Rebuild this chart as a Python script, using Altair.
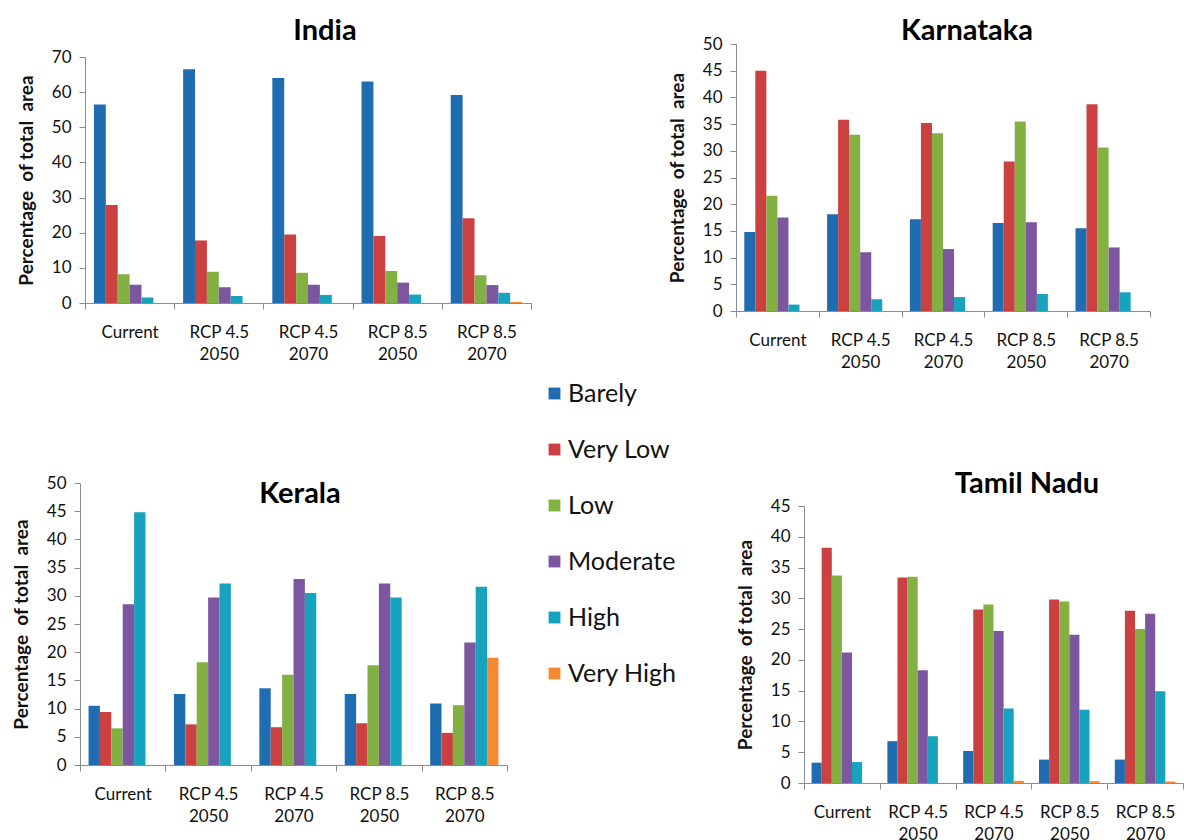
import altair as alt
import pandas as pd

# ---------------- data ----------------
scenarios = ["Current", "RCP 4.5|2050", "RCP 4.5|2070", "RCP 8.5|2050", "RCP 8.5|2070"]
classes = ["Barely", "Very Low", "Low", "Moderate", "High", "Very High"]
colors = ["#1F6DB0", "#CB4040", "#82B042", "#7D56A0", "#17A2BD", "#F58A33"]

india = {
    "Barely":    [56.5, 66.5, 64.0, 63.0, 59.2],
    "Very Low":  [27.9, 17.8, 19.5, 19.1, 24.1],
    "Low":       [8.2, 8.9, 8.6, 9.1, 7.9],
    "Moderate":  [5.2, 4.5, 5.2, 5.8, 5.1],
    "High":      [1.6, 2.0, 2.3, 2.4, 2.9],
    "Very High": [0.0, 0.0, 0.0, 0.0, 0.3],
}
karnataka = {
    "Barely":    [14.8, 18.1, 17.2, 16.5, 15.5],
    "Very Low":  [45.0, 35.8, 35.2, 28.0, 38.7],
    "Low":       [21.6, 33.0, 33.3, 35.5, 30.6],
    "Moderate":  [17.5, 11.0, 11.6, 16.6, 11.9],
    "High":      [1.2, 2.2, 2.6, 3.2, 3.5],
    "Very High": [0.0, 0.0, 0.0, 0.0, 0.0],
}
kerala = {
    "Barely":    [10.5, 12.6, 13.6, 12.6, 10.9],
    "Very Low":  [9.4, 7.2, 6.7, 7.4, 5.7],
    "Low":       [6.5, 18.2, 16.0, 17.7, 10.6],
    "Moderate":  [28.5, 29.7, 33.0, 32.2, 21.7],
    "High":      [44.8, 32.2, 30.5, 29.7, 31.6],
    "Very High": [0.0, 0.0, 0.0, 0.0, 19.0],
}
tamil_nadu = {
    "Barely":    [3.3, 6.8, 5.2, 3.8, 3.8],
    "Very Low":  [38.2, 33.4, 28.2, 29.8, 28.0],
    "Low":       [33.7, 33.5, 29.0, 29.5, 25.0],
    "Moderate":  [21.2, 18.3, 24.7, 24.1, 27.5],
    "High":      [3.4, 7.6, 12.1, 11.9, 14.9],
    "Very High": [0.0, 0.0, 0.35, 0.3, 0.25],
}

# ---------------- layout ----------------
W, H = 1184, 840
FONT = "Lato"
# name, values, plot x0, x1, y top, y bottom, y max, tick step, title x, title baseline y
panels = [
    ("India", india, 85, 531, 57, 303, 70, 10, 325, 40),
    ("Karnataka", karnataka, 736, 1150, 44, 311, 50, 5, 967, 40),
    ("Kerala", kerala, 80, 507, 483, 765, 50, 5, 300, 503),
    ("Tamil Nadu", tamil_nadu, 804, 1183, 506, 783, 45, 5, 1027, 493),
]

legend = alt.Legend(
    orient="none", legendX=542, legendY=381, title=None,
    symbolType="square", symbolSize=140, symbolStrokeWidth=0,
    labelFont=FONT, labelFontSize=25, labelColor="#111111",
    rowPadding=30, labelOffset=1, padding=0,
)

layers = []
for name, vals, x0, x1, yt, yb, ymax, step, tx, ty in panels:
    rows = []
    for c in classes:
        for s, v in zip(scenarios, vals[c]):
            rows.append({"scenario": s, "cls": c, "value": v})
    df = pd.DataFrame(rows)
    bars = alt.Chart(df).mark_bar().encode(
        x=alt.X(
            "scenario:N", sort=scenarios,
            scale=alt.Scale(range=[x0, x1], paddingInner=0, paddingOuter=0),
            axis=alt.Axis(
                orient="bottom", offset=yb - H, title=None, tickBand="extent",
                labelExpr="split(datum.label, '|')", labelAngle=0,
                labelPadding=15, labelLineHeight=22, labelOverlap=False,
            ),
        ),
        xOffset=alt.XOffset(
            "cls:N", sort=classes,
            scale=alt.Scale(paddingOuter=0.75, paddingInner=0),
        ),
        y=alt.Y(
            "value:Q",
            scale=alt.Scale(domain=[0, ymax], range=[yb, yt], nice=False),
            axis=alt.Axis(
                orient="left", offset=-x0, values=list(range(0, ymax + 1, step)),
                title="Percentage\u00a0 of total\u00a0 area", grid=False,
                labelPadding=8, titlePadding=15,
            ),
        ),
        color=alt.Color("cls:N", sort=classes,
                        scale=alt.Scale(domain=classes, range=colors),
                        legend=legend),
    )
    title = alt.Chart(pd.DataFrame({"t": [name]})).mark_text(
        font=FONT, fontSize=29, fontWeight="bold", color="#000000",
        align="center", baseline="alphabetic",
    ).encode(x=alt.value(tx), y=alt.value(ty), text="t:N")
    layers += [bars, title]

chart = (
    alt.layer(*layers)
    .resolve_scale(x="independent", y="independent", xOffset="independent")
    .resolve_axis(x="independent", y="independent")
    .properties(width=W, height=H, padding=0,
                autosize=alt.AutoSizeParams(type="none"),
                background="white")
    .configure_view(strokeWidth=0)
    .configure_axis(
        domainColor="#8C8C8C", tickColor="#8C8C8C", tickSize=6,
        labelFont=FONT, labelFontSize=17, labelColor="#111111",
        titleFont=FONT, titleFontSize=19, titleFontWeight="bold", titleColor="#111111",
    )
)

chart.save("out.html", embed_options={"renderer": "svg", "actions": False})
